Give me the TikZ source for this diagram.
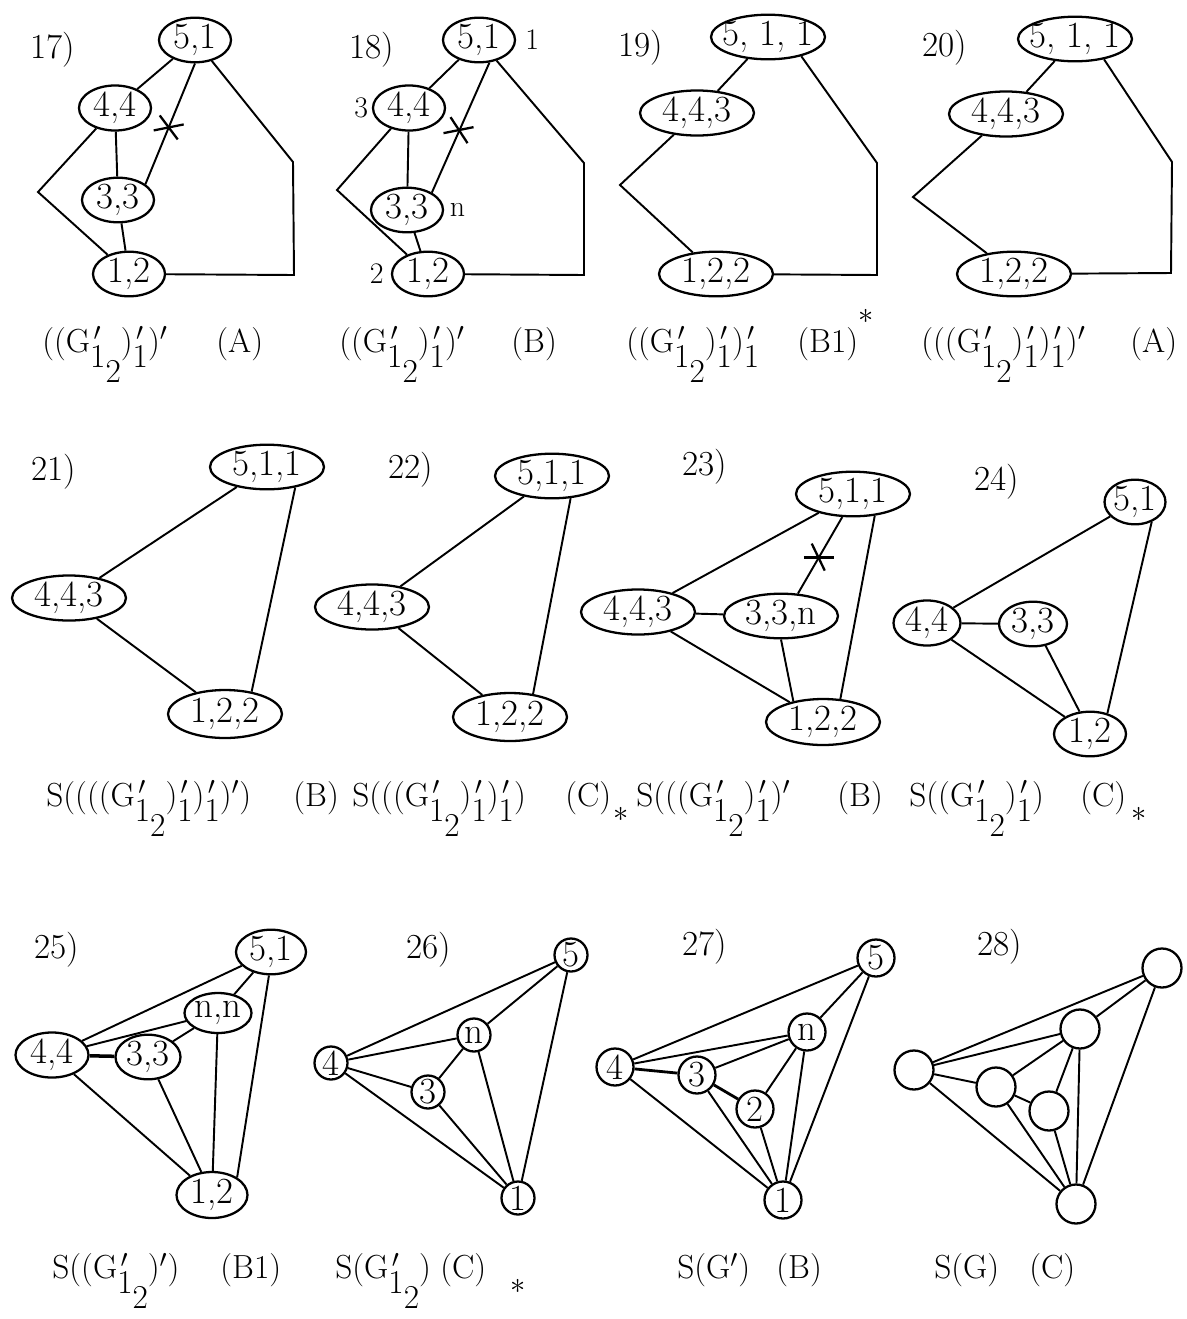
\documentclass[tikz,border=0pt]{standalone}
\usepackage{amsmath}
\usepackage{tikz}
\usetikzlibrary{shapes,positioning,calc}
\newcommand{\lowr}[1]{\raisebox{-0.45em}{#1}}
\newcommand{\prsub}[1]{\makebox[0pt][l]{\hspace{0.1em}$'$}\lowr{#1}}
\tikzset{
    every node/.style={font=\fontsize{21}{25}\selectfont},
    ell/.style={draw,ellipse,line width=1.3pt,inner sep=0pt,minimum width=1.44cm,minimum height=0.82cm},
    ellwide/.style={ell,inner xsep=-0.2cm,minimum width=2.28cm,minimum height=0.84cm},
    circ/.style={draw,circle,line width=1.3pt,inner sep=0pt,minimum size=0.74cm},
    line/.style={-,line width=1.1pt},
    cross/.style={-,line width=1.3pt},
    lbl/.style={inner sep=0pt,font=\fontsize{20}{24}\selectfont},
    note/.style={inner sep=0pt,font=\fontsize{17}{20}\selectfont},
    capt/.style={anchor=base west,inner sep=0pt,font=\fontsize{19}{23}\selectfont},
}
\begin{document}
\begin{tikzpicture}[x=0.02cm,y=-0.02cm]
                \useasboundingbox (0,0) rectangle (1187,1319);
                % 17
                \node[lbl] at (53,50) (t17) {17)};
                \node[ell] at (195,40) (a17) {5,1};
                \node[ell] at (115,108) (b17) {4,4};
                \node[ell] at (118,200) (c17) {3,3};
                \node[ell] at (129,274) (d17) {1,2};
                \coordinate (l17) at (38,192);
                \coordinate (r17) at (293,162);
                \coordinate (s17) at (294,275);
                \draw[line] (a17) -- (b17);
                \draw[line] (b17) -- (c17);
                \draw[line] (c17) -- (d17);
                \draw[line] (b17) -- (l17) -- (d17);
                \draw[line] (a17) -- (r17) -- (s17) -- (d17);
                \draw[line] (a17.south) -- (c17.30);
                \coordinate (x17) at ($(a17.south)!0.53!(c17.30)$);
                \draw[cross] ($(x17)+(-15,3)$) -- ($(x17)+(15,-3)$);
                \draw[cross] ($(x17)+(-9,-12)$) -- ($(x17)+(9,12)$);
                \node[capt] at (42,352) (f17) {((G\prsub{1\lowr{2}})\prsub{1})$'$};
                \node[capt] at (216,352) (g17) {(A)};
                % 18
                \node[lbl] at (372,50) (t18) {18)};
                \node[ell] at (479,40) (a18) {5,1};
                \node[ell] at (409,108) (b18) {4,4};
                \node[ell] at (407,210) (c18) {3,3};
                \node[ell] at (428,274) (d18) {1,2};
                \node[note,right=5pt of a18] (na18) {1};
                \node[note,left=2pt of b18] (nb18) {3};
                \node[note,right=3pt of c18] (nc18) {n};
                \node[note,left=4pt of d18] (nd18) {2};
                \coordinate (l18) at (337,190);
                \coordinate (r18) at (584,163);
                \coordinate (s18) at (584,275);
                \draw[line] (a18) -- (b18);
                \draw[line] (b18) -- (c18);
                \draw[line] (c18) -- (d18);
                \draw[line] (b18) -- (l18) -- (d18);
                \draw[line] (a18) -- (r18) -- (s18) -- (d18);
                \draw[line] (a18.-65) -- (c18.35);
                \coordinate (x18) at ($(a18.-65)!0.52!(c18.35)$);
                \draw[cross] ($(x18)+(-16,3)$) -- ($(x18)+(14,-3)$);
                \draw[cross] ($(x18)+(-9,-13)$) -- ($(x18)+(8,13)$);
                \node[capt] at (339,352) (f18) {((G\prsub{1\lowr{2}})\prsub{1})$'$};
                \node[capt] at (511,352) (g18) {(B)};
                % 19
                \node[lbl] at (641,48) (t19) {19)};
                \node[ellwide] at (768,37) (a19) {5, 1, 1};
                \node[ellwide] at (697,113) (b19) {4,4,3};
                \node[ellwide] at (716,274) (c19) {1,2,2};
                \coordinate (l19) at (620,185);
                \coordinate (r19) at (877,163);
                \coordinate (s19) at (877,275);
                \draw[line] (a19) -- (b19);
                \draw[line] (b19) -- (l19) -- (c19);
                \draw[line] (a19.-30) -- (r19) -- (s19) -- (c19);
                \node[capt] at (626,352) (f19) {((G\prsub{1\lowr{2}})\prsub{1})\prsub{1}};
                \node[capt] at (797,352) (g19) {(B1)\raisebox{0.85em}{$\ast$}};
                % 20
                \node[lbl] at (945,48) (t20) {20)};
                \node[ellwide] at (1075,39) (a20) {5, 1, 1};
                \node[ellwide] at (1006,114) (b20) {4,4,3};
                \node[ellwide] at (1014,274) (c20) {1,2,2};
                \coordinate (l20) at (913,197);
                \coordinate (r20) at (1172,162);
                \coordinate (s20) at (1171,273);
                \draw[line] (a20) -- (b20);
                \draw[line] (b20) -- (l20) -- (c20);
                \draw[line] (a20.-35) -- (r20) -- (s20) -- (c20);
                \node[capt] at (921,352) (f20) {(((G\prsub{1\lowr{2}})\prsub{1})\prsub{1})$'$};
                \node[capt] at (1130,352) (g20) {(A)};
                % 21
                \node[lbl] at (54,472) (t21) {21)};
                \node[ellwide] at (267,467) (a21) {5,1,1};
                \node[ellwide] at (69,598) (b21) {4,4,3};
                \node[ellwide,minimum height=0.96cm] at (225,714) (c21) {1,2,2};
                \draw[line] (a21) -- (b21);
                \draw[line] (b21) -- (c21);
                \draw[line] (a21.-36) -- (c21.40);
                \node[capt] at (46,806) (f21) {S((((G\prsub{1\lowr{2}})\prsub{1})\prsub{1})$'$)};
                \node[capt] at (293,806) (g21) {(B)};
                % 22
                \node[lbl] at (411,470) (t22) {22)};
                \node[ellwide] at (552,476) (a22) {5,1,1};
                \node[ellwide] at (372,607) (b22) {4,4,3};
                \node[ellwide,minimum height=0.96cm] at (510,717) (c22) {1,2,2};
                \draw[line] (a22) -- (b22);
                \draw[line] (b22) -- (c22);
                \draw[line] (a22.-50) -- (c22.45);
                \node[capt] at (352,806) (f22) {S(((G\prsub{1\lowr{2}})\prsub{1})\prsub{1})};
                \node[capt] at (565,806) (g22) {(C)\hspace{1pt}\raisebox{-0.47em}{$\ast$}};
                % 23
                \node[lbl] at (705,467) (t23) {23)};
                \node[ellwide] at (853,494) (a23) {5,1,1};
                \node[ellwide] at (638,612) (b23) {4,4,3};
                \node[ellwide] at (781,616) (c23) {3,3,n};
                \node[ellwide,minimum height=0.92cm] at (823,722) (d23) {1,2,2};
                \draw[line] (b23) -- (a23);
                \draw[line] (b23) -- (c23);
                \draw[line] (b23) -- (d23);
                \draw[line] (c23.53) -- (a23.-115);
                \draw[line] (c23.south) -- (d23.145);
                \draw[line] (a23.-45) -- (d23.53);
                \coordinate (x23) at ($(c23.53)!0.47!(a23.-115)$);
                \draw[cross] ($(x23)+(-15,0)$) -- ($(x23)+(15,0)$);
                \draw[cross] ($(x23)+(-7,-14)$) -- ($(x23)+(6,13)$);
                \node[capt] at (636,806) (f23) {S(((G\prsub{1\lowr{2}})\prsub{1})$'$};
                \node[capt] at (837,806) (g23) {(B)};
                % 24
                \node[lbl] at (997,482) (t24) {24)};
                \node[ell,minimum width=1.2cm,minimum height=0.8cm] at (1135,502) (a24) {5,1};
                \node[ell,minimum width=1.34cm,minimum height=0.8cm] at (927,623) (b24) {4,4};
                \node[ell,minimum width=1.36cm,minimum height=0.8cm] at (1033,624) (c24) {3,3};
                \node[ell,minimum height=0.84cm] at (1090,734) (d24) {1,2};
                \draw[line] (b24) -- (a24);
                \draw[line] (b24) -- (c24);
                \draw[line] (b24) -- (d24);
                \draw[line] (c24.-60) -- (d24.115);
                \draw[line] (a24.-50) -- (d24.50);
                \node[capt] at (909,806) (f24) {S((G\prsub{1\lowr{2}})\prsub{1})};
                \node[capt] at (1080,806) (g24) {(C)\hspace{3pt}\raisebox{-0.47em}{$\ast$}};
                % 25
                \node[lbl] at (57,950) (t25) {25)};
                \node[ell,minimum width=1.4cm,minimum height=0.86cm] at (271,952) (a25) {5,1};
                \node[ell,minimum width=1.34cm,minimum height=0.8cm] at (218,1013) (n25) {n,n};
                \node[ell,minimum width=1.46cm,minimum height=0.88cm] at (52,1055) (b25) {4,4};
                \node[ell,minimum width=1.3cm,minimum height=0.8cm] at (148,1057) (c25) {3,3};
                \node[ell,minimum width=1.42cm,minimum height=0.92cm] at (212,1195) (d25) {1,2};
                \draw[line] (b25) -- (a25);
                \draw[line] (b25) -- (n25);
                \draw[line,line width=2pt] (b25) -- (c25);
                \draw[line] (b25) -- (d25);
                \draw[line] (c25) -- (n25);
                \draw[line] (c25) -- (d25);
                \draw[line] (n25) -- (a25);
                \draw[line] (n25) -- (d25);
                \draw[line] (a25.-95) -- (d25.35);
                \node[capt] at (52,1278) (f25) {S((G\prsub{1\lowr{2}})$'$)};
                \node[capt] at (220,1278) (g25) {(B1)};
                % 26
                \node[lbl] at (429,950) (t26) {26)};
                \node[circ,minimum size=0.66cm] at (571,955) (e26) {5};
                \node[circ,minimum size=0.66cm] at (474,1035) (n26) {n};
                \node[circ,minimum size=0.66cm] at (331,1063) (b26) {4};
                \node[circ,minimum size=0.66cm] at (428,1092) (c26) {3};
                \node[circ,minimum size=0.66cm] at (518,1198) (a26) {1};
                \draw[line] (b26) -- (e26);
                \draw[line] (b26) -- (n26);
                \draw[line] (b26) -- (c26);
                \draw[line] (b26) -- (a26);
                \draw[line] (c26) -- (n26);
                \draw[line] (c26) -- (a26);
                \draw[line] (n26) -- (e26);
                \draw[line] (n26) -- (a26);
                \draw[line] (e26) -- (a26);
                \node[capt] at (335,1278) (f26) {S(G\prsub{1\lowr{2}})};
                \node[capt] at (440,1278) (g26) {(C)\hspace{14pt}\raisebox{-0.47em}{$\ast$}};
                % 27
                \node[lbl] at (705,947) (t27) {27)};
                \node[circ] at (876,958) (e27) {5};
                \node[circ] at (807,1032) (n27) {n};
                \node[circ] at (615,1067) (b27) {4};
                \node[circ] at (697,1075) (c27) {3};
                \node[circ] at (755,1109) (f27) {2};
                \node[circ] at (783,1200) (a27) {1};
                \draw[line] (b27) -- (e27);
                \draw[line] (b27) -- (n27);
                \draw[line,line width=1.6pt] (b27) -- (c27);
                \draw[line] (b27) -- (a27);
                \draw[line] (c27) -- (n27);
                \draw[line,line width=1.6pt] (c27) -- (f27);
                \draw[line] (c27) -- (a27);
                \draw[line] (f27) -- (n27);
                \draw[line] (f27) -- (a27);
                \draw[line] (n27) -- (e27);
                \draw[line] (n27) -- (a27);
                \draw[line] (e27) -- (a27);
                \node[capt] at (677,1278) (h27) {S(G$'$)};
                \node[capt] at (776,1278) (g27) {(B)};
                % 28
                \node[lbl] at (1000,947) (t28) {28)};
                \node[circ,minimum size=0.78cm] at (1162,968) (e28) {};
                \node[circ,minimum size=0.78cm] at (1080,1029) (n28) {};
                \node[circ,minimum size=0.78cm] at (914,1070) (b28) {};
                \node[circ,minimum size=0.78cm] at (996,1087) (c28) {};
                \node[circ,minimum size=0.78cm] at (1049,1111) (f28) {};
                \node[circ,minimum size=0.78cm] at (1076,1204) (a28) {};
                \draw[line] (b28) -- (e28);
                \draw[line] (b28) -- (n28);
                \draw[line] (b28) -- (c28);
                \draw[line] (b28) -- (a28);
                \draw[line] (c28) -- (n28);
                \draw[line] (c28) -- (f28);
                \draw[line] (c28) -- (a28);
                \draw[line] (f28) -- (n28);
                \draw[line] (f28) -- (a28);
                \draw[line] (n28) -- (e28);
                \draw[line] (n28) -- (a28);
                \draw[line] (e28) -- (a28);
                \node[capt] at (934,1278) (h28) {S(G)};
                \node[capt] at (1029,1278) (g28) {(C)};
            \end{tikzpicture}
\end{document}
